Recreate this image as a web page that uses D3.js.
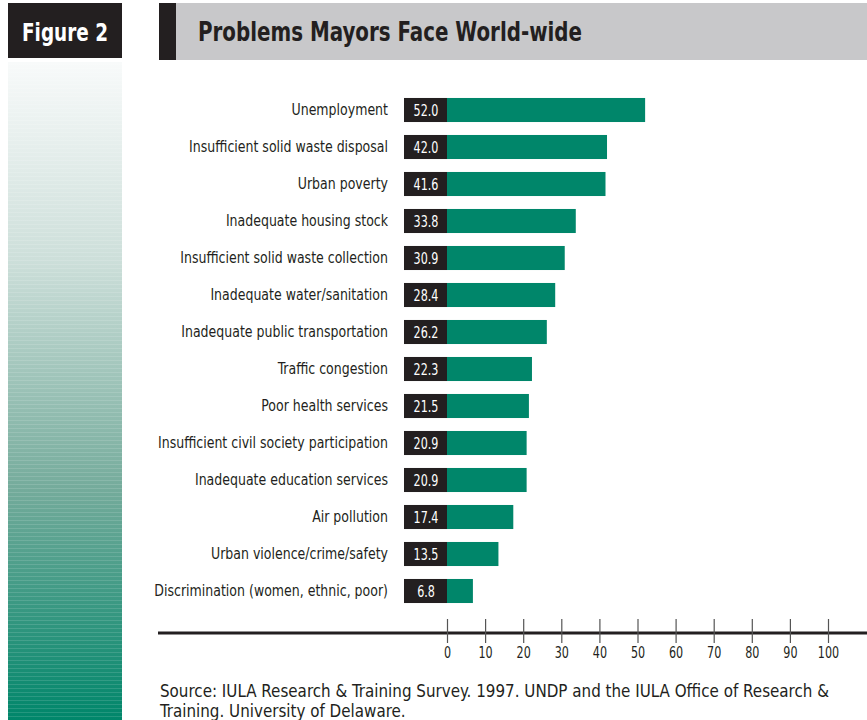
<!DOCTYPE html>
<html>
<head>
<meta charset="utf-8">
<script src="https://cdn.jsdelivr.net/npm/d3@7"></script>
<style>
  body { margin: 0; background: #fff; }
  svg { display: block; font-family: 'Liberation Sans Narrow', 'DejaVu Sans Condensed', 'Arial Narrow', sans-serif; }
</style>
</head>
<body>
<svg id="chart"></svg>
<script>
// problems and share of mayors reporting them (%)
const problems = [
  'Unemployment',
  'Insufficient solid waste disposal',
  'Urban poverty',
  'Inadequate housing stock',
  'Insufficient solid waste collection',
  'Inadequate water/sanitation',
  'Inadequate public transportation',
  'Traffic congestion',
  'Poor health services',
  'Insufficient civil society participation',
  'Inadequate education services',
  'Air pollution',
  'Urban violence/crime/safety',
  'Discrimination (women, ethnic, poor)'
]
const values = [52.0, 42.0, 41.6, 33.8, 30.9, 28.4, 26.2, 22.3, 21.5, 20.9, 20.9, 17.4, 13.5, 6.8]
const ticks = [0, 10, 20, 30, 40, 50, 60, 70, 80, 90, 100]

const figureLabel = 'Figure 2'
const title = 'Problems Mayors Face World-wide'
const sourceLines = [
  'Source: IULA Research & Training Survey. 1997. UNDP and the IULA Office of Research &',
  'Training. University of Delaware.'
]

const outerWidth = 867
const outerHeight = 720
const green = '#00866a'
const dark = '#231f20'

// squeeze text horizontally so the condensed face looks closer to the original
function condense(sel, ratio) {
  sel.each(function () {
    const len = this.getComputedTextLength()
    d3.select(this)
      .attr('textLength', len * ratio)
      .attr('lengthAdjust', 'spacingAndGlyphs')
  })
}

const svg = d3.select('#chart')
  .attr('width', outerWidth)
  .attr('height', outerHeight)

const defs = svg.append('defs')
const grad = defs.append('linearGradient')
  .attr('id', 'side-grad')
  .attr('x1', 0).attr('y1', 0).attr('x2', 0).attr('y2', 1)
grad.append('stop').attr('offset', '0%').attr('stop-color', '#f8fafa')
grad.append('stop').attr('offset', '30%').attr('stop-color', '#cddfda')
grad.append('stop').attr('offset', '65%').attr('stop-color', '#74ab9b')
grad.append('stop').attr('offset', '100%').attr('stop-color', '#00866a')

const stripes = defs.append('pattern')
  .attr('id', 'stripes')
  .attr('patternUnits', 'userSpaceOnUse')
  .attr('width', 10).attr('height', 4)
stripes.append('rect')
  .attr('width', 10).attr('height', 1)
  .attr('fill', '#fff').attr('opacity', 0.13)

// left column: figure label + gradient strip
svg.append('rect')
  .attr('x', 8).attr('y', 3).attr('width', 114).attr('height', 55)
  .attr('fill', dark)
svg.append('text')
  .attr('x', 65).attr('y', 41)
  .attr('text-anchor', 'middle')
  .attr('fill', '#fff')
  .attr('font-size', 25)
  .attr('font-weight', 'bold')
  .attr('textLength', 86)
  .attr('lengthAdjust', 'spacingAndGlyphs')
  .text(figureLabel)
svg.append('rect')
  .attr('x', 8).attr('y', 62).attr('width', 114).attr('height', 658)
  .attr('fill', 'url(#side-grad)')
svg.append('rect')
  .attr('x', 8).attr('y', 62).attr('width', 114).attr('height', 658)
  .attr('fill', 'url(#stripes)')

// title bar
svg.append('rect')
  .attr('x', 159).attr('y', 3).attr('width', outerWidth - 159).attr('height', 57)
  .attr('fill', '#c8c8ca')
svg.append('rect')
  .attr('x', 159).attr('y', 3).attr('width', 17).attr('height', 57)
  .attr('fill', dark)
svg.append('text')
  .attr('x', 198).attr('y', 41)
  .attr('fill', dark)
  .attr('font-size', 26)
  .attr('font-weight', 'bold')
  .attr('textLength', 384)
  .attr('lengthAdjust', 'spacingAndGlyphs')
  .text(title)

// scales
const xScale = d3.scaleLinear()
  .domain([0, 100])
  .range([447, 828])
const yScale = d3.scaleBand()
  .domain(problems)
  .range([91.5, 609.5])
  .paddingInner(0.35)
  .paddingOuter(0.175)

const rows = problems.map((p, i) => ({ name: p, value: values[i] }))

const g = svg.append('g')

// category labels
g.selectAll('text.cat')
  .data(rows)
  .join('text')
  .attr('class', 'cat')
  .attr('x', 388)
  .attr('y', d => yScale(d.name) + yScale.bandwidth() / 2)
  .attr('dy', '0.36em')
  .attr('text-anchor', 'end')
  .attr('font-size', 15)
  .attr('fill', dark)
  .text(d => d.name)
  .call(condense, 0.93)

// dark value boxes
g.selectAll('rect.box')
  .data(rows)
  .join('rect')
  .attr('class', 'box')
  .attr('x', 404)
  .attr('y', d => yScale(d.name))
  .attr('width', xScale(0) - 404)
  .attr('height', yScale.bandwidth())
  .attr('fill', dark)

// green bars
g.selectAll('rect.bar')
  .data(rows)
  .join('rect')
  .attr('class', 'bar')
  .attr('x', xScale(0))
  .attr('y', d => yScale(d.name))
  .attr('width', d => xScale(d.value) - xScale(0))
  .attr('height', yScale.bandwidth())
  .attr('fill', green)

// values
g.selectAll('text.val')
  .data(rows)
  .join('text')
  .attr('class', 'val')
  .attr('x', 426)
  .attr('y', d => yScale(d.name) + yScale.bandwidth() / 2)
  .attr('dy', '0.37em')
  .attr('text-anchor', 'middle')
  .attr('font-size', 15.5)
  .attr('fill', '#fff')
  .text(d => d.value.toFixed(1))
  .call(condense, 0.8)

// axis
const axisY = 633
svg.append('line')
  .attr('x1', 158).attr('x2', outerWidth)
  .attr('y1', axisY).attr('y2', axisY)
  .attr('stroke', dark)
  .attr('stroke-width', 3)

const xAxis = d3.axisBottom(xScale)
  .tickValues(ticks)
  .tickSize(24)
  .tickPadding(4)
  .tickFormat(d3.format('d'))
const axisG = svg.append('g')
  .attr('transform', `translate(0, ${axisY - 14})`)
  .call(xAxis)
axisG.attr('font-family', null).attr('font-size', null)
axisG.select('.domain').remove()
axisG.selectAll('.tick line')
  .attr('stroke', '#555')
  .attr('stroke-width', 1.2)
axisG.selectAll('.tick text')
  .attr('font-size', 15.5)
  .attr('fill', dark)
  .call(condense, 0.8)

// source note
const src = svg.append('g').selectAll('text')
  .data(sourceLines)
  .join('text')
  .attr('x', 160)
  .attr('y', (d, i) => 697 + i * 20)
  .attr('font-size', 17)
  .attr('fill', dark)
  .text(d => d)
const srcRatio = 669 / src.node().getComputedTextLength()
src.call(condense, srcRatio)
</script>
</body>
</html>
